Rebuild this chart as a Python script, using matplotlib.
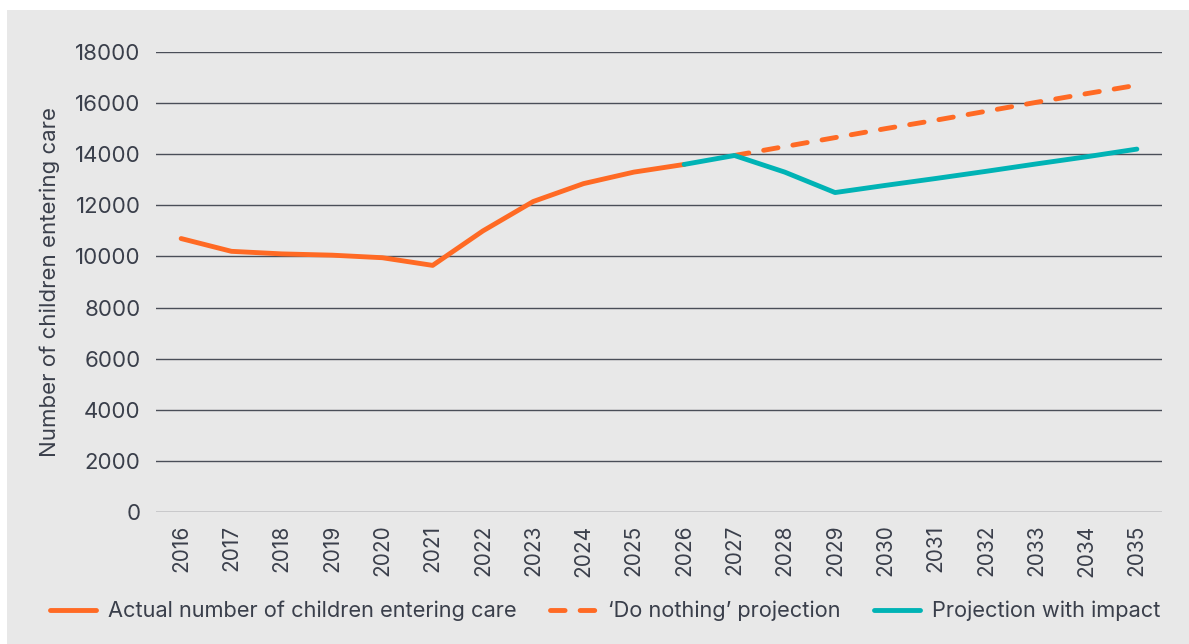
import matplotlib
matplotlib.use("Agg")
import matplotlib.pyplot as plt
from matplotlib.patches import Rectangle

years = [str(y) for y in range(2016, 2036)]

actual = [10700, 10200, 10100, 10050, 9950, 9650, 11000, 12150, 12850, 13300, 13600]
do_nothing = [13950, 14300, 14650, 15000, 15330, 15680, 16030, 16370, 16700]
with_impact = [13600, 13950, 13300, 12500, 12780, 13050, 13330, 13620, 13900, 14200]

yticks = [0, 2000, 4000, 6000, 8000, 10000, 12000, 14000, 16000, 18000]

ORANGE = "#FF6A24"
TEAL = "#00B3B5"
TEXT = "#3A3F4B"
GRID = "#4A4E58"
BG = "#E8E8E8"

plt.rcParams["font.family"] = ["Inter", "DejaVu Sans"]

fig = plt.figure(figsize=(11.89, 6.44), dpi=100, facecolor="white")
fig.patches.append(Rectangle((7 / 1189, 0), 1, 634 / 644, transform=fig.transFigure,
                             facecolor=BG, edgecolor="none", zorder=-10))
ax = fig.add_axes([156 / 1189, 1 - 512 / 644, (1162 - 156) / 1189, (512 - 52) / 644])
ax.set_facecolor("none")

x = list(range(len(years)))
ax.plot(x[:11], actual, color=ORANGE, lw=3.5, solid_capstyle="round",
        label="Actual number of children entering care", zorder=3)
ax.plot(x[11:], do_nothing, color=ORANGE, lw=3.5, ls=(0, (3.0, 3.1)),
        dash_capstyle="round", label="\u2018Do nothing\u2019 projection", zorder=3)
ax.plot(x[10:], with_impact, color=TEAL, lw=3.5, solid_capstyle="round",
        label="Projection with impact", zorder=4)

ax.set_xlim(-0.5, len(years) - 0.5)
ax.set_ylim(0, 18000)
ax.set_yticks(yticks)
ax.set_yticklabels([str(v) for v in yticks], fontsize=16, color=TEXT)
ax.set_xticks(x)
ax.set_xticklabels(years, rotation=90, fontsize=15, color=TEXT)
ax.tick_params(length=0)
ax.tick_params(axis="x", pad=9)
ax.tick_params(axis="y", pad=11)
ax.grid(axis="y", color=GRID, lw=1)
ax.set_axisbelow(True)
for s in ax.spines.values():
    s.set_visible(False)

ax.set_ylabel("Number of children entering care", fontsize=16, color=TEXT, labelpad=11)

fig.legend(loc="center", bbox_to_anchor=(605 / 1189, 1 - 611 / 644), ncol=3,
           frameon=False, fontsize=15.7, labelcolor=TEXT, handlelength=2.1,
           columnspacing=1.55, handletextpad=0.55)

fig.savefig("out.png", dpi=100, facecolor="white")
